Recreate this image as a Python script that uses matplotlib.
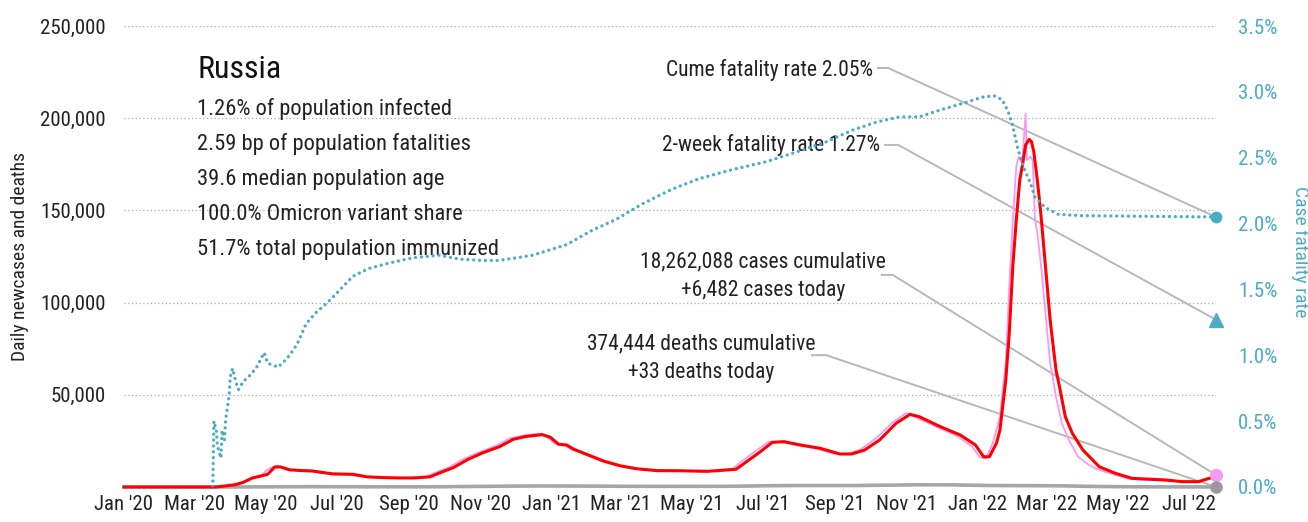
import matplotlib
matplotlib.use("Agg")
import matplotlib.pyplot as plt
import matplotlib.dates as mdates
from matplotlib import font_manager
from matplotlib.ticker import FuncFormatter
import numpy as np

# pick a narrow face if one is installed
names = {f.name for f in font_manager.fontManager.ttflist}
family = "DejaVu Sans"
for cand in ["Roboto Condensed", "Liberation Sans Narrow", "DejaVu Sans Condensed"]:
    if cand in names:
        family = cand
        break
plt.rcParams["font.family"] = [family, "DejaVu Sans"]

# ---- data ----
country = "Russia"
stats = [
    "1.26% of population infected",
    "2.59 bp of population fatalities",
    "39.6 median population age",
    "100.0% Omicron variant share",
    "51.7% total population immunized",
]
cases_total = 18262088
cases_today = 6482
deaths_total = 374444
deaths_today = 33
cfr_cume = 2.05
cfr_2wk = 1.27

# 7-day average of new cases
avg_dates = ["2020-01-01", "2020-03-20", "2020-03-28", "2020-04-05", "2020-04-12", "2020-04-20",
             "2020-04-27", "2020-05-03", "2020-05-09", "2020-05-14", "2020-05-22", "2020-06-01",
             "2020-06-10", "2020-06-20", "2020-06-28", "2020-07-15", "2020-07-27", "2020-08-10",
             "2020-08-25", "2020-09-05", "2020-09-19", "2020-09-27", "2020-10-09", "2020-10-21",
             "2020-11-03", "2020-11-18", "2020-11-29", "2020-12-10", "2020-12-24", "2020-12-31",
             "2021-01-07", "2021-01-14", "2021-01-20", "2021-02-01", "2021-02-15", "2021-03-01",
             "2021-03-15", "2021-04-01", "2021-04-21", "2021-05-15", "2021-06-08", "2021-06-15",
             "2021-06-29", "2021-07-09", "2021-07-19", "2021-08-02", "2021-08-19", "2021-09-05",
             "2021-09-15", "2021-09-26", "2021-10-09", "2021-10-23", "2021-11-04", "2021-11-12",
             "2021-11-30", "2021-12-17", "2021-12-30", "2022-01-06", "2022-01-11", "2022-01-17",
             "2022-01-20", "2022-01-22", "2022-01-25", "2022-01-28", "2022-01-31", "2022-02-03",
             "2022-02-06", "2022-02-09", "2022-02-11", "2022-02-14", "2022-02-16", "2022-02-18",
             "2022-02-21", "2022-02-24", "2022-02-28", "2022-03-04", "2022-03-09", "2022-03-12",
             "2022-03-17", "2022-03-23", "2022-04-01", "2022-04-15", "2022-04-29", "2022-05-13",
             "2022-06-11", "2022-06-25", "2022-07-09", "2022-07-18", "2022-07-24"]
avg_cases = [0, 0, 600, 1200, 2500, 4900,
             5900, 6900, 10800, 10900, 9300, 8900,
             8700, 7800, 7100, 6900, 5500, 5100,
             4900, 4900, 5500, 7600, 10500, 14800,
             18500, 22000, 25800, 27400, 28400, 27000,
             23200, 22800, 20500, 17500, 14000, 11500,
             9900, 8900, 8800, 8500, 9600, 12800,
             19200, 24200, 24600, 22800, 21000, 17900,
             17900, 20000, 25500, 34500, 39400, 38100,
             32700, 28200, 22800, 16400, 16400, 23700,
             30900, 41800, 58000, 83400, 119500, 144800,
             166500, 177300, 185500, 188500, 187300, 181800,
             166500, 148400, 119500, 90600, 63400, 54400,
             38100, 29100, 20100, 11000, 7400, 4700,
             3800, 2900, 2900, 4700, 5600]

# daily reported cases
daily_dates = ["2020-01-01", "2020-03-18", "2020-03-25", "2020-04-02", "2020-04-09", "2020-04-16",
               "2020-04-22", "2020-04-28", "2020-05-02", "2020-05-06", "2020-05-11", "2020-05-18",
               "2020-05-28", "2020-06-08", "2020-06-18", "2020-06-26", "2020-07-12", "2020-07-24",
               "2020-08-08", "2020-08-22", "2020-09-03", "2020-09-16", "2020-09-24", "2020-10-06",
               "2020-10-18", "2020-10-31", "2020-11-15", "2020-11-26", "2020-12-07", "2020-12-22",
               "2020-12-29", "2021-01-04", "2021-01-11", "2021-01-17", "2021-01-29", "2021-02-12",
               "2021-02-26", "2021-03-12", "2021-03-29", "2021-04-18", "2021-05-12", "2021-06-05",
               "2021-06-12", "2021-06-26", "2021-07-06", "2021-07-16", "2021-07-30", "2021-08-16",
               "2021-09-02", "2021-09-12", "2021-09-23", "2021-10-06", "2021-10-20", "2021-11-01",
               "2021-11-09", "2021-11-27", "2021-12-14", "2021-12-27", "2022-01-03", "2022-01-08",
               "2022-01-14", "2022-01-20", "2022-01-22", "2022-01-25", "2022-01-28", "2022-01-31",
               "2022-02-03", "2022-02-05", "2022-02-08", "2022-02-11", "2022-02-12", "2022-02-15",
               "2022-02-17", "2022-02-19", "2022-02-21", "2022-02-24", "2022-02-28", "2022-03-04",
               "2022-03-09", "2022-03-14", "2022-03-20", "2022-03-28", "2022-04-05", "2022-04-12",
               "2022-04-26", "2022-05-10", "2022-05-20", "2022-06-08", "2022-06-22", "2022-07-06",
               "2022-07-14", "2022-07-20", "2022-07-24"]
daily_cases = [0, 0, 500, 1000, 2000, 4000,
               5500, 6500, 9000, 10500, 11600, 9500,
               9000, 8800, 7700, 7000, 6600, 5600,
               5100, 4900, 5000, 5700, 7900, 11000,
               15300, 18800, 22500, 26300, 27800, 29000,
               26800, 23500, 23000, 20800, 17800, 14200,
               11600, 10000, 8900, 8800, 8400, 9800,
               13500, 20000, 24600, 24500, 22700, 20800,
               17700, 18000, 20500, 26500, 35000, 40200,
               37800, 32500, 27800, 22000, 16000, 15500,
               24000, 38100, 50800, 67100, 108600, 144800,
               173700, 179100, 175500, 202600, 177300, 179100,
               177300, 144800, 137600, 121300, 94200, 67100,
               49000, 34500, 25500, 16400, 12500, 10000,
               7000, 4500, 4000, 3600, 3100, 2900,
               3500, 5000, 6482]

# daily deaths
death_dates = ["2020-01-01", "2020-03-25", "2020-04-15", "2020-05-01", "2020-05-20", "2020-06-10",
               "2020-07-01", "2020-07-20", "2020-08-15", "2020-09-10", "2020-10-01", "2020-10-20",
               "2020-11-10", "2020-12-01", "2020-12-25", "2021-01-15", "2021-02-05", "2021-03-01",
               "2021-04-01", "2021-05-01", "2021-06-01", "2021-07-01", "2021-07-20", "2021-08-15",
               "2021-09-15", "2021-10-15", "2021-11-10", "2021-12-10", "2022-01-10", "2022-02-15",
               "2022-03-15", "2022-04-10", "2022-05-10", "2022-06-10", "2022-07-10", "2022-07-24"]
daily_deaths = [0, 0, 40, 90, 130, 170,
                150, 130, 110, 110, 150, 270,
                380, 500, 560, 540, 480, 400,
                360, 370, 380, 640, 780, 790,
                790, 980, 1200, 1150, 810, 730,
                620, 300, 140, 75, 40, 33]

# cumulative case fatality rate, percent
cfr_dates = ["2020-03-17", "2020-03-18", "2020-03-20", "2020-03-21", "2020-03-24", "2020-03-25",
             "2020-03-27", "2020-03-28", "2020-03-31", "2020-04-01", "2020-04-03", "2020-04-06",
             "2020-04-08", "2020-04-12", "2020-04-17", "2020-04-23", "2020-04-30", "2020-05-03",
             "2020-05-12", "2020-05-20", "2020-05-28", "2020-06-05", "2020-06-14", "2020-06-22",
             "2020-07-01", "2020-07-15", "2020-07-29", "2020-08-15", "2020-09-04", "2020-09-27",
             "2020-10-14", "2020-11-03", "2020-11-17", "2020-12-02", "2020-12-16", "2021-01-14",
             "2021-02-05", "2021-02-25", "2021-03-20", "2021-04-14", "2021-05-07", "2021-06-05",
             "2021-07-04", "2021-08-01", "2021-08-24", "2021-09-16", "2021-10-06", "2021-10-26",
             "2021-11-12", "2021-11-29", "2021-12-22", "2022-01-05", "2022-01-15", "2022-01-22",
             "2022-01-27", "2022-01-31", "2022-02-04", "2022-02-09", "2022-02-15", "2022-02-19",
             "2022-02-28", "2022-03-11", "2022-03-31", "2022-07-24"]
cfr_pct = [0.0, 0.50, 0.43, 0.31, 0.22, 0.43,
           0.36, 0.51, 0.69, 0.84, 0.90, 0.79,
           0.74, 0.80, 0.84, 0.90, 1.02, 0.94,
           0.91, 0.98, 1.08, 1.24, 1.33, 1.39,
           1.47, 1.60, 1.66, 1.70, 1.74, 1.76,
           1.73, 1.72, 1.72, 1.74, 1.76, 1.84,
           1.95, 2.03, 2.15, 2.26, 2.34, 2.41,
           2.47, 2.55, 2.62, 2.71, 2.77, 2.81,
           2.81, 2.86, 2.92, 2.96, 2.97, 2.94,
           2.85, 2.74, 2.58, 2.43, 2.31, 2.20,
           2.12, 2.07, 2.06, 2.05]

# ---- styling ----
TEXT = "#222222"
TEAL = "#4bacc6"
RED = "#ff0000"
PINK = "#f59af2"
GRAY = "#a6a6a6"
LEADER = "#b8b8b8"
YMAX = 250000
PMAX = 3.5

d = lambda s: np.array(s, dtype="datetime64[D]")
avg_x, daily_x, death_x, cfr_x = d(avg_dates), d(daily_dates), d(death_dates), d(cfr_dates)
last_day = daily_x[-1]

fig = plt.figure(figsize=(13.08, 5.22), dpi=100)
ax = fig.add_axes([124 / 1308, 35 / 522, 1092 / 1308, 461 / 522])
ax2 = ax.twinx()

ax.plot(death_x, daily_deaths, color=GRAY, lw=2.6, zorder=3, clip_on=False)
ax.plot(daily_x, daily_cases, color=PINK, lw=1.3, zorder=4)
ax.plot(avg_x, avg_cases, color=RED, lw=2.2, zorder=5, clip_on=False)
# right axis holds fractions, labels show percent
ax2.plot(cfr_x, np.array(cfr_pct) / 100, color=TEAL, lw=2.4, linestyle=(0, (0.01, 1.75)),
         dash_capstyle="round", zorder=3)

ax.set_xlim(np.datetime64("2020-01-01"), last_day)
ax.set_ylim(0, YMAX)
ax2.set_ylim(0, PMAX / 100)

ax.set_yticks([50000, 100000, 150000, 200000, 250000])
ax.yaxis.set_major_formatter(FuncFormatter(lambda v, p: f"{v:,.0f}"))
ax.grid(axis="y", linestyle=(0, (1, 2)), color="#aaaaaa", lw=0.9)
ax.set_axisbelow(True)
ax.xaxis.set_major_locator(mdates.MonthLocator(bymonth=[1, 3, 5, 7, 9, 11]))
ax.xaxis.set_major_formatter(mdates.DateFormatter("%b '%y"))
ax.tick_params(axis="y", length=0, pad=13, labelsize=15, labelcolor=TEXT)
ax.tick_params(axis="x", length=0, pad=6, labelsize=15, labelcolor=TEXT)

ax2.set_yticks(np.arange(0, 0.0351, 0.005))
ax2.yaxis.set_major_formatter(FuncFormatter(lambda v, p: f"{v * 100:.1f}%"))
ax2.tick_params(axis="y", length=0, pad=16, labelsize=15, labelcolor=TEAL)

for a in (ax, ax2):
    for s in a.spines.values():
        s.set_visible(False)

fig.text(20 / 1308, 1 - 257 / 522, "Daily newcases and deaths", rotation=90,
         ha="center", va="center", fontsize=14, color=TEXT)
fig.text(1300 / 1308, 1 - 252 / 522, "Case fatality rate", rotation=270,
         ha="center", va="center", fontsize=14, color=TEAL)

# country box
ax.text(0.067, 0.887, country, transform=ax.transAxes, fontsize=23, color="#111111",
        va="baseline", ha="left")
for i, line in enumerate(stats):
    ax.text(0.067, 0.807 - i * 0.076, line, transform=ax.transAxes, fontsize=16.2,
            color=TEXT, va="baseline", ha="left")

# end markers
ax2.plot([last_day], [cfr_cume / 100], "o", ms=7.5, color=TEAL, clip_on=False, zorder=6)
ax2.plot([last_day], [cfr_2wk / 100], "^", ms=9.5, color=TEAL, clip_on=False, zorder=6)
ax2.plot([last_day], [cases_today / YMAX * PMAX / 100], "o", ms=8.5, color=PINK,
         clip_on=False, zorder=6)
ax2.plot([last_day], [deaths_today / YMAX * PMAX / 100], "o", ms=8, color="#999999",
         clip_on=False, zorder=6)

# labels with leader lines to the markers
notes = [
    (f"Cume fatality rate {cfr_cume:.2f}%", 0.686, 0.905, 0.6905, 0.6996, 0.909,
     cfr_cume / PMAX, "right"),
    (f"2-week fatality rate {cfr_2wk:.2f}%", 0.692, 0.742, 0.697, 0.709, 0.742,
     cfr_2wk / PMAX, "right"),
    (f"{cases_total:,} cases cumulative\n+{cases_today:,} cases today", 0.585, 0.457,
     0.694, 0.704, 0.460, cases_today / YMAX, "center"),
    (f"{deaths_total:,} deaths cumulative\n+{deaths_today:,} deaths today", 0.529, 0.279,
     0.630, 0.643, 0.286, deaths_today / YMAX, "center"),
]
for txt, tx, ty, x0, x1, ly, yend, ha in notes:
    ax.text(tx, ty, txt, transform=ax.transAxes, fontsize=15.5, color=TEXT,
            ha=ha, va="center", multialignment="center", linespacing=1.45, zorder=7)
    ax.plot([x0, x1, 1.0], [ly, ly, yend], transform=ax.transAxes, color=LEADER,
            lw=1.4, clip_on=False, zorder=2)

fig.savefig("out.png", dpi=100)
